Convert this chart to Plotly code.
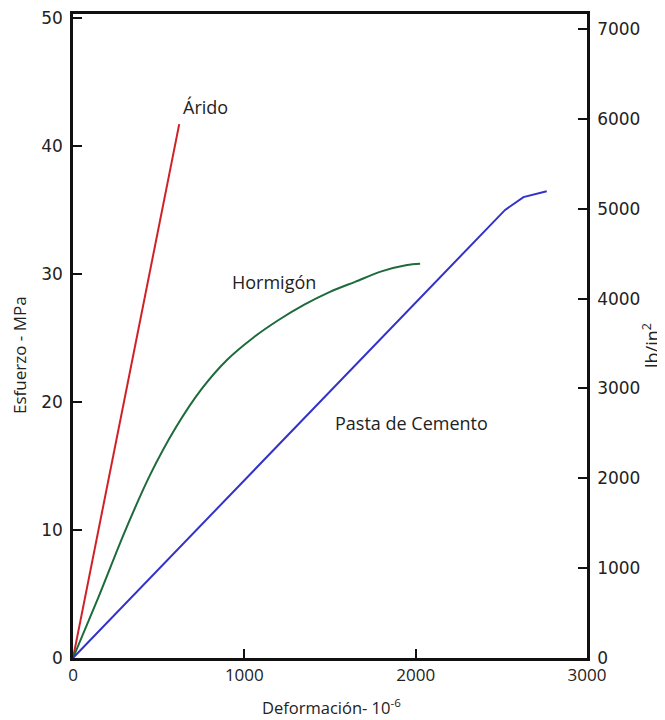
import plotly.graph_objects as go

# ---- data (deformation in 1e-6, stress in MPa) ----
arido_x = [0, 620]
arido_y = [0, 41.7]

hormigon_x = [0, 150, 300, 450, 600, 750, 900, 1050, 1200, 1350, 1500, 1650, 1800, 1950, 2026]
hormigon_y = [0, 4.8, 9.8, 14.3, 18.0, 21.0, 23.3, 25.0, 26.4, 27.6, 28.6, 29.4, 30.2, 30.7, 30.8]

pasta_x = [0, 2522, 2629, 2765]
pasta_y = [0, 35.0, 36.0, 36.45]

x_ticks = [0, 1000, 2000, 3000]
mpa_ticks = [0, 10, 20, 30, 40, 50]
psi_ticks = [0, 1000, 2000, 3000, 4000, 5000, 6000, 7000]

labels = [("Árido", 205, 107), ("Hormigón", 274, 282), ("Pasta de Cemento", 411, 423)]

# page body has an 8px default margin: the figure starts at (8, 8)
OFF = 8
W, H = 665 - OFF, 720 - OFF
L, R, T, B = 73 - OFF, 78, 14 - OFF, 62

fig = go.Figure()
fig.add_trace(go.Scatter(x=arido_x, y=arido_y, mode="lines",
                         line=dict(color="#d02028", width=2), name="Árido"))
fig.add_trace(go.Scatter(x=hormigon_x, y=hormigon_y, mode="lines",
                         line=dict(color="#1d6b3b", width=2, shape="spline", smoothing=0.8), name="Hormigón"))
fig.add_trace(go.Scatter(x=pasta_x, y=pasta_y, mode="lines",
                         line=dict(color="#3232c8", width=2), name="Pasta de Cemento"))
# psi axis carrier (no visible marks)
fig.add_trace(go.Scatter(x=[None], y=[None], yaxis="y2", showlegend=False, hoverinfo="skip"))

tickfont_y = dict(family="DejaVu Sans", size=17, color="#222")
fig.update_layout(
    width=W, height=H,
    margin=dict(l=L, r=R, t=T, b=B, autoexpand=False),
    paper_bgcolor="white", plot_bgcolor="white",
    showlegend=False,
    xaxis=dict(range=[0, 3000], tickvals=x_ticks, ticks="inside", ticklen=9, tickwidth=2,
               tickcolor="#111", showline=True, linecolor="#111", linewidth=2.5, mirror=True,
               showgrid=False, zeroline=False, automargin=False, ticklabeloverflow="allow",
               tickfont=dict(family="Open Sans", size=17, color="#222")),
    yaxis=dict(range=[0, 50.3], tickvals=mpa_ticks, ticks="inside", ticklen=9, tickwidth=2,
               tickcolor="#111", showline=True, linecolor="#111", linewidth=2.5, automargin=False,
               showgrid=False, zeroline=False, tickfont=tickfont_y, ticklabelstandoff=4,
               ticklabeloverflow="allow"),
    yaxis2=dict(range=[0, 7167], tickvals=psi_ticks, overlaying="y", side="right",
                ticks="inside", ticklen=9, tickwidth=2, tickcolor="#111", automargin=False,
                showline=True, linecolor="#111", linewidth=2.5, ticklabeloverflow="allow",
                showgrid=False, zeroline=False, tickfont=tickfont_y, ticklabelstandoff=4),
)

def px2paper_x(px):
    return (px - OFF - L) / (W - L - R)

def px2paper_y(py):
    return (H + OFF - B - py) / (H - T - B)

def note(text, px, py, size, angle=0):
    fig.add_annotation(text=text, x=px2paper_x(px), y=px2paper_y(py), xref="paper", yref="paper",
                       xanchor="center", yanchor="middle", showarrow=False, textangle=angle,
                       borderpad=0, font=dict(family="Open Sans", size=size, color="#222"))

for text, px, py in labels:
    note(text, px, py, 18)

note("Esfuerzo - MPa", 19, 355, 17, -90)
note("lb/in<sup>2</sup>", 651, 346, 18, -90)
note("Deformación- 10<sup>-6</sup>", 331, 707, 16.5)

fig.write_html("out.html")
